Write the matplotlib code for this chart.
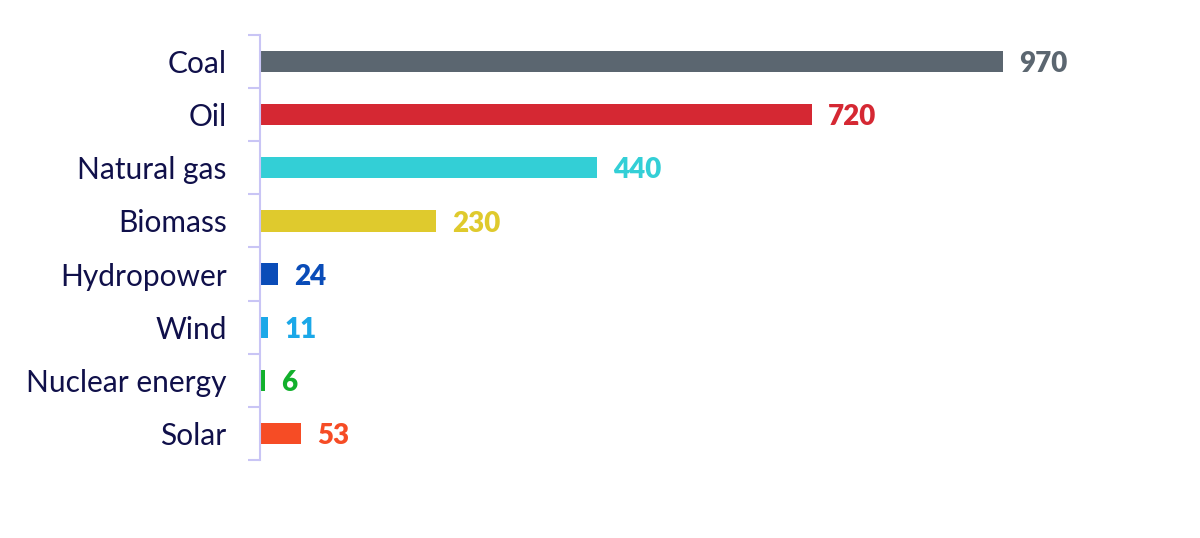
import matplotlib.pyplot as plt
import numpy as np

# Energy sources and values (top to bottom)
sources = ['Coal', 'Oil', 'Natural gas', 'Biomass', 'Hydropower', 'Wind', 'Nuclear energy', 'Solar']
values = [970, 720, 440, 230, 24, 11, 6, 53]
colors = ['#5b6670', '#d52833', '#33cfd6', '#dfca2d', '#0a4cb8', '#1ba8e8', '#12b02c', '#f64c25']

plt.rcParams['font.family'] = ['Lato', 'DejaVu Sans']

fig = plt.figure(figsize=(12, 5.38), dpi=100)
ax = fig.add_axes([260 / 1200, 78 / 538, 940 / 1200, 425 / 538])

y_pos = np.arange(len(sources))
ax.barh(y_pos, values, height=0.4, color=colors, align='center')

for y, v, c in zip(y_pos, values, colors):
    ax.text(v + 21, y + 0.05, str(v), color=c, fontsize=20, fontweight='heavy',
            va='center', ha='left')

ax.set_xlim(0, 940 / 0.766)
ax.set_ylim(len(sources) - 0.5, -0.5)

# category labels, ticks sit between categories
ax.set_yticks(y_pos)
ax.set_yticklabels(sources, fontsize=21.5, color='#10104a')
for lbl in ax.get_yticklabels():
    lbl.set_y(lbl.get_position()[1])
ax.tick_params(axis='y', which='major', length=0, pad=24)
ax.set_yticks(np.arange(-0.5, len(sources)), minor=True)
ax.tick_params(axis='y', which='minor', length=9, width=1.5, color='#c9c5f5')
ax.set_xticks([])

for s in ['top', 'right', 'bottom']:
    ax.spines[s].set_visible(False)
ax.spines['left'].set_color('#c9c5f5')
ax.spines['left'].set_linewidth(1.5)

plt.savefig('out.png', dpi=100)
